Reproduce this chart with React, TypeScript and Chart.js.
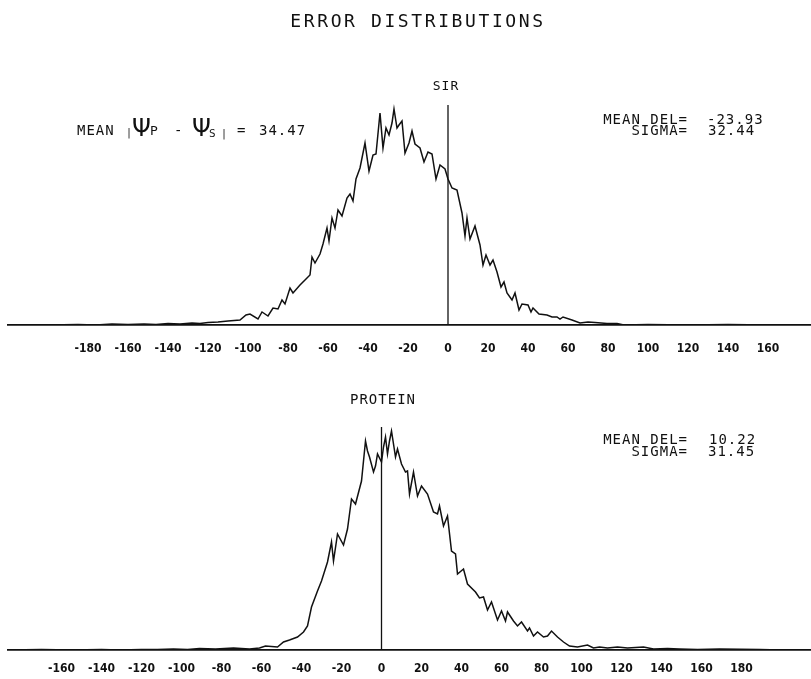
import React, { useEffect, useRef } from "react";
import { Chart, registerables } from "chart.js";

Chart.register(...registerables);

const MONO = "'DejaVu Sans Mono', 'Liberation Mono', monospace";
const TICK_FAMILY = "'DejaVu Sans Condensed', 'Liberation Sans Narrow', 'DejaVu Sans', sans-serif";

const TITLE = "ERROR DISTRIBUTIONS";
const TOP_NAME = "SIR";
const BOTTOM_NAME = "PROTEIN";

const TOP_TICKS = [-180, -160, -140, -120, -100, -80, -60, -40, -20, 0, 20, 40, 60, 80, 100, 120, 140, 160];
const BOTTOM_TICKS = [-160, -140, -120, -100, -80, -60, -40, -20, 0, 20, 40, 60, 80, 100, 120, 140, 160, 180];

const SIR_MEAN_DEL = "-23.93";
const SIR_SIGMA = "32.44";
const SIR_MEAN_ABS = "34.47";
const PROT_MEAN_DEL = "10.22";
const PROT_SIGMA = "31.45";

// SIR error distribution (angle in degrees, frequency in arbitrary units)
const SIR_ANGLE = [
  -220, -200, -185, -176, -168, -160, -152, -146, -140, -134,
  -128, -124, -120, -115, -110, -104, -101, -99, -95, -93,
  -90, -87.5, -85, -83, -81.5, -79, -77.5, -74, -71.5, -69,
  -68, -66.5, -64, -62.5, -60.5, -59.5, -58, -56.5, -55, -53,
  -50.5, -49, -47.5, -46, -44, -41.5, -39.5, -37.5, -36, -34,
  -32.5, -31, -29.5, -28, -27, -25.5, -24.5, -23, -21.5, -19.5,
  -18, -16.5, -14, -12, -10, -8, -6, -4, -1.5, 0,
  2, 4.5, 7, 8.5, 9.5, 11, 13.5, 16, 17.5, 19,
  21, 22.5, 24.5, 26.5, 28, 29.5, 32, 33.5, 35.5, 37,
  40, 41.5, 42.5, 45.5, 49.5, 52, 54.5, 56, 57.5, 62,
  66, 70, 73.5, 79.5, 84.5, 88, 100, 120, 140, 160,
  181.5,
];
const SIR_FREQ = [
  0, 0, 0.5, 0, 1, 0.5, 1, 0.5, 1.5, 1,
  2, 1.5, 2.5, 3, 4, 5, 10, 11, 6, 13,
  9, 17, 16, 25, 21, 37, 32, 40, 45, 50,
  68, 62, 71, 81, 97, 84, 107, 97, 115, 109,
  127, 131, 124, 146, 157, 182, 154, 170, 171, 212,
  177, 197, 190, 202, 216, 197, 200, 204, 172, 182,
  194, 181, 177, 163, 173, 171, 146, 160, 156, 146,
  137, 135, 112, 89, 107, 86, 99, 80, 60, 70,
  60, 65, 53, 38, 43, 32, 25, 32, 15, 21,
  20, 13, 17, 11, 10, 8, 8, 6, 8, 5,
  2, 3, 2.5, 1.5, 1.5, 0, 0.5, 0, 0.5, 0,
  0,
];

// PROTEIN error distribution
const PROT_ANGLE = [
  -190, -170, -155, -140, -131, -120, -112, -104, -97, -91,
  -83, -74, -66, -61, -58, -52, -49, -46, -42, -39,
  -37, -35, -32, -30, -27, -25, -24, -22, -19, -17,
  -15, -13, -10, -8, -7, -6, -4, -3, -2, 0,
  1, 2, 3, 4, 5, 7, 8, 10, 12, 13,
  14, 16, 18, 20, 23, 26, 28, 29, 31, 33,
  35, 37, 38, 41, 43, 47, 49, 51, 53, 55,
  57, 58, 60, 62, 63, 66, 68, 70, 73, 74,
  76, 78, 81, 83, 85, 88, 91, 94, 98, 103,
  106, 109, 113, 118, 123, 131, 136, 143, 149, 158,
  169, 189, 200, 216,
];
const PROT_FREQ = [
  0, 0.5, 0, 0.5, 0, 0.5, 0.5, 1, 0.5, 1.5,
  1, 2, 1, 2, 4, 3, 8, 10, 13, 18,
  24, 43, 59, 69, 88, 108, 89, 116, 105, 121,
  151, 146, 169, 209, 199, 193, 178, 184, 196, 188,
  203, 213, 196, 209, 219, 193, 201, 186, 178, 179,
  156, 178, 154, 164, 156, 138, 136, 144, 124, 134,
  99, 96, 76, 81, 66, 58, 52, 53, 40, 48,
  36, 30, 39, 29, 38, 29, 24, 28, 19, 22,
  14, 18, 13, 14, 19, 13, 8, 4, 3, 5,
  2, 3, 2, 3, 2, 3, 1, 1.5, 1, 0.5,
  1, 0.5, 0, 0,
];

const SIR_ZERO_LINE = [0, 220];
const PROT_ZERO_LINE = [0, 223];

type TextItem = {
  text: string;
  x: number;
  y: number;
  size?: number;
  family?: string;
  align?: CanvasTextAlign;
  baseline?: CanvasTextBaseline;
  spacing?: number;
  weight?: string;
};

function drawTexts(ctx: CanvasRenderingContext2D, items: TextItem[]) {
  ctx.save();
  ctx.fillStyle = "#111";
  for (const it of items) {
    ctx.font = `${it.weight || "normal"} ${it.size || 14}px ${it.family || MONO}`;
    ctx.textAlign = it.align || "left";
    ctx.textBaseline = it.baseline || "middle";
    (ctx as any).letterSpacing = `${it.spacing ?? 1}px`;
    ctx.fillText(it.text, it.x, it.y);
  }
  (ctx as any).letterSpacing = "0px";
  ctx.restore();
}

type PanelCfg = {
  angles: number[];
  freqs: number[];
  zero: number[];
  ticks: number[];
  xMin: number;
  xMax: number;
  padTop: number;
  padBottom: number;
  tickPad: number;
  texts: TextItem[];
};

function Panel({ cfg, height, top }: { cfg: PanelCfg; height: number; top: number }) {
  const ref = useRef<HTMLCanvasElement>(null);
  useEffect(() => {
    if (!ref.current) return;
    const textPlugin = {
      id: "panelTexts",
      afterDraw(chart: any) {
        drawTexts(chart.ctx, cfg.texts);
      },
    };
    const chart = new Chart(ref.current, {
      type: "line",
      data: {
        datasets: [
          {
            data: cfg.angles.map((a, i) => ({ x: a, y: cfg.freqs[i] })),
            borderColor: "#111",
            borderWidth: 1.5,
            pointRadius: 0,
            tension: 0,
            fill: false,
          },
          {
            data: cfg.zero.map((v) => ({ x: 0, y: v })),
            borderColor: "#111",
            borderWidth: 1.3,
            pointRadius: 0,
            fill: false,
          },
        ],
      },
      options: {
        animation: false,
        responsive: false,
        devicePixelRatio: 1,
        layout: { padding: { left: 8, right: 0, top: cfg.padTop, bottom: cfg.padBottom } },
        plugins: { legend: { display: false }, tooltip: { enabled: false }, title: { display: false } },
        scales: {
          x: {
            type: "linear",
            min: cfg.xMin,
            max: cfg.xMax,
            position: "bottom",
            grid: { display: false, drawTicks: false },
            border: { display: true, color: "#111", width: 1.8 },
            afterBuildTicks: (scale: any) => {
              scale.ticks = cfg.ticks.map((v) => ({ value: v }));
            },
            ticks: {
              autoSkip: false,
              maxRotation: 0,
              padding: cfg.tickPad,
              color: "#111",
              font: { family: TICK_FAMILY, size: 12, weight: "bold" },
              callback: (v: any) => String(v),
            },
          },
          y: { display: false, min: 0, max: 225 },
        },
      },
      plugins: [textPlugin],
    } as any);
    return () => chart.destroy();
  }, [cfg]);
  return (
    <canvas
      ref={ref}
      width={811}
      height={height}
      style={{ display: "block", position: "absolute", left: 0, top }}
    />
  );
}

// top canvas 0..400 (baseline at 325), bottom canvas 360..700 (baseline at page 650)
const topCfg: PanelCfg = {
  angles: SIR_ANGLE,
  freqs: SIR_FREQ,
  zero: SIR_ZERO_LINE,
  ticks: TOP_TICKS,
  xMin: -220,
  xMax: 181.5,
  padTop: 100,
  padBottom: 400 - 325 - (2 * 17 + 14.4),
  tickPad: 17,
  texts: [
    { text: TITLE, x: 418, y: 22, size: 18, spacing: 2.6, align: "center" },
    { text: TOP_NAME, x: 446, y: 87, size: 13, spacing: 1, align: "center" },
    { text: "MEAN DEL=", x: 688, y: 120, align: "right" },
    { text: SIR_MEAN_DEL, x: 707, y: 120 },
    { text: "SIGMA=", x: 688, y: 131, align: "right" },
    { text: SIR_SIGMA, x: 708, y: 131 },
    { text: "MEAN", x: 77, y: 135, baseline: "alphabetic" },
    { text: "|", x: 126, y: 136, size: 10, baseline: "alphabetic" },
    { text: "Ψ", x: 132, y: 136, size: 24, family: "'DejaVu Sans', sans-serif", spacing: 0, baseline: "alphabetic" },
    { text: "P", x: 150, y: 135, size: 13, baseline: "alphabetic" },
    { text: "-", x: 174, y: 135, baseline: "alphabetic" },
    { text: "Ψ", x: 192, y: 136, size: 24, family: "'DejaVu Sans', sans-serif", spacing: 0, baseline: "alphabetic" },
    { text: "S", x: 209, y: 137, size: 11, baseline: "alphabetic" },
    { text: "|", x: 221, y: 137, size: 10, baseline: "alphabetic" },
    { text: "=", x: 237, y: 135, baseline: "alphabetic" },
    { text: SIR_MEAN_ABS, x: 259, y: 135, baseline: "alphabetic" },
  ],
};

const bottomCfg: PanelCfg = {
  angles: PROT_ANGLE,
  freqs: PROT_FREQ,
  zero: PROT_ZERO_LINE,
  ticks: BOTTOM_TICKS,
  xMin: -186.75,
  xMax: 214.75,
  padTop: 65,
  padBottom: 340 - 290 - (2 * 12 + 14.4),
  tickPad: 12,
  texts: [
    { text: BOTTOM_NAME, x: 383, y: 40, size: 14, spacing: 1, align: "center" },
    { text: "MEAN DEL=", x: 688, y: 80, align: "right" },
    { text: PROT_MEAN_DEL, x: 709, y: 80 },
    { text: "SIGMA=", x: 688, y: 92, align: "right" },
    { text: PROT_SIGMA, x: 708, y: 92 },
  ],
};

export default function App() {
  return (
    <div
      style={{
        position: "absolute",
        left: 0,
        top: 0,
        width: 811,
        height: 679,
        overflow: "hidden",
        background: "#fff",
      }}
    >
      <Panel cfg={topCfg} height={400} top={0} />
      <Panel cfg={bottomCfg} height={340} top={360} />
    </div>
  );
}
